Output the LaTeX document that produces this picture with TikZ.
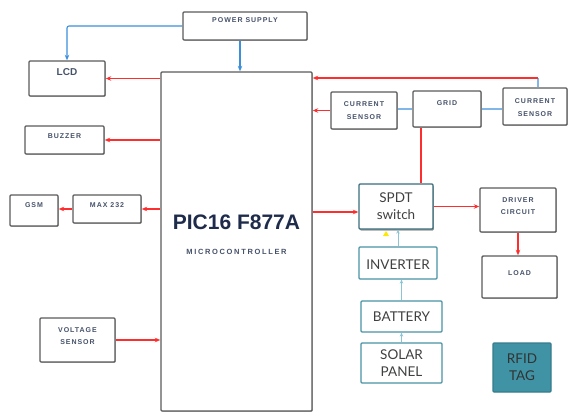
\documentclass[tikz,border=0pt]{standalone}
\usepackage{fontspec}
\setmainfont{Liberation Sans}
\newfontfamily\lblfont[LetterSpace=14]{Liberation Sans}
\newfontfamily\mcfont[LetterSpace=22]{Liberation Sans}
\newfontfamily\lato{Lato}
\usetikzlibrary{arrows.meta,shadows}
\definecolor{myred}{HTML}{FF2E2E}
\definecolor{psblue}{HTML}{3B8FDB}
\definecolor{ltblue}{HTML}{8CC4D4}
\definecolor{teal1}{HTML}{4A92A6}
\definecolor{rfidc}{HTML}{3F93A5}
\definecolor{bord}{HTML}{5A5A5A}
\definecolor{txt}{HTML}{46526A}
\definecolor{pictxt}{HTML}{1E2B4A}
\tikzset{
  box/.style={draw=bord, line width=1.4pt, rounded corners=1pt, fill=white,
    drop shadow={shadow xshift=0.8pt, shadow yshift=-0.8pt, fill=gray!60, opacity=1},
    inner sep=0pt},
  tbox/.style={draw=teal1, line width=1.3pt, rounded corners=1pt, fill=white, inner sep=0pt},
  lbl/.style={font=\lblfont\bfseries\fontsize{7}{8.5}\selectfont, text=txt, align=center, inner sep=0pt},
  blbl/.style={font=\bfseries\fontsize{10}{12}\selectfont, text=txt, align=center, inner sep=0pt},
  tlbl/.style={font=\lato\fontsize{13.5}{17}\selectfont, text=black!75, align=center, inner sep=0pt},
  redarr/.style={draw=myred, line width=1.1pt, -{Stealth[length=5.5pt,width=4.5pt]}},
  redl/.style={draw=myred, line width=1.1pt},
  bluearr/.style={draw=psblue, line width=1.1pt, -{Stealth[length=5.5pt,width=4.5pt]}},
  bluel/.style={draw=psblue!65, line width=1.1pt},
  ltarr/.style={draw=ltblue, line width=1pt, -{Stealth[length=4pt,width=3.5pt,open]}},
}
\begin{document}
\begin{tikzpicture}[x=1pt,y=-1pt]
\useasboundingbox (0,0) rectangle (570,415);
% boxes
\node[box, minimum width=124, minimum height=28, label={[lbl,yshift=6pt]center:POWER SUPPLY}] (ps) at (245,26) {};
\node[box, minimum width=76, minimum height=35, label={[blbl,yshift=6pt]center:LCD}] (lcd) at (67,78.5) {};
\node[box, minimum width=79, minimum height=28, label={[lbl,yshift=4pt]center:BUZZER}] (buz) at (64.5,140) {};
\node[box, minimum width=48, minimum height=31, label={[lbl,yshift=5pt]center:GSM}] (gsm) at (34,210.5) {};
\node[box, minimum width=68, minimum height=28, label={[lbl,yshift=4pt]center:MAX 232}] (max) at (107,209) {};
\node[box, minimum width=75, minimum height=44, label={[lbl,yshift=4pt]center:VOLTAGE\\[4pt]SENSOR}] (vs) at (77.5,340) {};
\node[box, minimum width=151, minimum height=339,
  label={[font=\bfseries\fontsize{21}{24}\selectfont, text=pictxt, inner sep=0pt, yshift=19.5pt]center:PIC16 F877A},
  label={[font=\mcfont\bfseries\fontsize{7.5}{9}\selectfont, text=txt, inner sep=0pt, yshift=-10.5pt]center:MICROCONTROLLER}] (mc) at (236.5,241.5) {};
\node[box, minimum width=66, minimum height=37, label={[lbl]center:CURRENT\\[4pt]SENSOR}] (cs1) at (364,110.5) {};
\node[box, minimum width=68, minimum height=36, label={[lbl,yshift=6pt]center:GRID}] (grid) at (447,109) {};
\node[box, minimum width=64, minimum height=37, label={[lbl,yshift=-1pt]center:CURRENT\\[4pt]SENSOR}] (cs2) at (535,106.5) {};
\node[tbox, draw=teal1!75!black, minimum width=74, minimum height=45,
  drop shadow={shadow xshift=0.8pt, shadow yshift=-1.5pt, fill=gray!80, opacity=1},
  label={[tlbl]center:SPDT\\switch}] (spdt) at (396,206.5) {};
\node[box, minimum width=76, minimum height=44, label={[lbl,yshift=4pt]center:DRIVER\\[4pt]CIRCUIT}] (drv) at (518,210) {};
\node[box, minimum width=75, minimum height=42, label={[lbl,yshift=4pt]center:LOAD}] (load) at (519.5,277) {};
\node[tbox, minimum width=78, minimum height=32, label={[tlbl,yshift=-2pt]center:INVERTER}] (inv) at (398,263) {};
\node[tbox, minimum width=81, minimum height=31, label={[tlbl]center:BATTERY}] (bat) at (401.5,316.5) {};
\node[tbox, minimum width=81, minimum height=40, label={[tlbl]center:SOLAR\\PANEL}] (sol) at (401.5,363) {};
\node[tbox, fill=rfidc, draw=rfidc!85!black, minimum width=58, minimum height=49, label={[tlbl, text=black!80]center:RFID\\TAG}] (rfid) at (522,367.5) {};
% coordinates
\coordinate (k) at (538,78);
\coordinate (gx) at (421,0);
\coordinate (sw) at ([yshift=-5.5pt]spdt.west);
\coordinate (pss) at ([xshift=-5pt]ps.south);
% connectors
\draw[bluearr, rounded corners=2pt] (ps.west) -| (lcd.north);
\draw[bluearr] (pss) -- (pss |- mc.north);
\draw[redarr] (mc.west |- lcd.center) -- (lcd.east);
\draw[redarr] (mc.west |- buz.center) -- (buz.east);
\draw[redarr] (mc.west |- max.center) -- (max.east);
\draw[redarr] (max.west) -- (max.west -| gsm.east);
\draw[redarr] (vs.east) -- (vs.east -| mc.west);
\draw[bluel] (cs2.north -| k) -- (k);
\draw[redarr] (k) -- (k -| mc.east);
\draw[redarr] (cs1.west) -- (cs1.west -| mc.east);
\draw[bluel] (grid.west) -- (grid.west -| cs1.east);
\draw[bluel] (grid.east) -- (grid.east -| cs2.west);
\draw[redl] (grid.south -| gx) -- (spdt.north -| gx);
\draw[redarr] (sw -| mc.east) -- (sw);
\draw[redarr] (spdt.east) -- (spdt.east -| drv.west);
\draw[redarr] (drv.south) -- (drv.south |- load.north);
\draw[ltarr] (inv.north) -- (inv.north |- spdt.south);
\draw[ltarr] (bat.north) -- (bat.north |- inv.south);
\draw[ltarr] (sol.north) -- (sol.north |- bat.south);
% small yellow mark
\fill[yellow!90!orange] (383,236) -- (389,236) -- (386,231) -- cycle;
\end{tikzpicture}
\end{document}
